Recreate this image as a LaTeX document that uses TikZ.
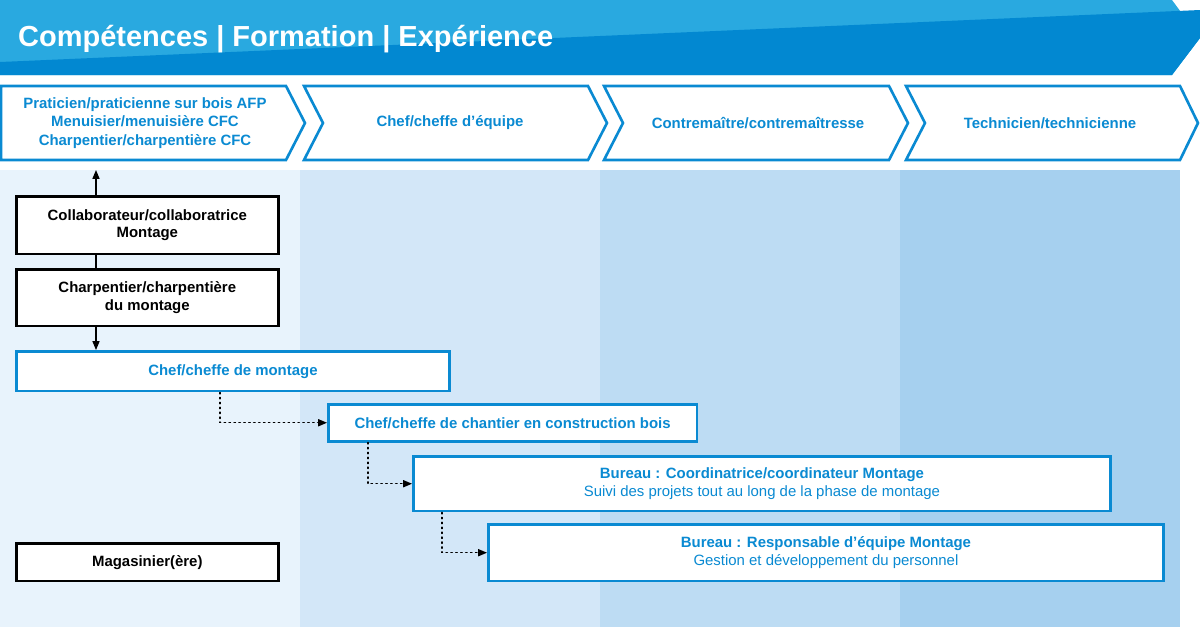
\documentclass[tikz,border=0pt]{standalone}
\usepackage{fontspec}
\setmainfont{Liberation Sans}
\usetikzlibrary{arrows.meta}
\definecolor{hdlight}{HTML}{29A9E0}
\definecolor{hddark}{HTML}{0288D1}
\definecolor{stroke}{HTML}{0A8AD2}
\definecolor{colA}{HTML}{E8F3FC}
\definecolor{colB}{HTML}{D3E7F8}
\definecolor{colC}{HTML}{BDDCF3}
\definecolor{colD}{HTML}{A6D0EF}
\newcommand{\pxu}{0.5669pt}
\tikzset{
    %standard arrow tip
    >={Triangle[length=5pt,width=4pt]},
    % black job box
    job/.style 2 args={rectangle, draw=black, line width=1.5pt, fill=white,
           anchor=north west, inner sep=0pt, align=center,
           minimum width={#1*\pxu}, minimum height={#2*\pxu},
           font=\fontsize{8.5}{10}\selectfont\bfseries},
    % blue job box
    bjob/.style 2 args={job={#1}{#2}, draw=stroke, text=stroke},
    % dotted step arrow
    dotstep/.style={->, stroke, thick, dotted, line cap=round},
    stage/.style={draw=stroke, line width=1.5pt, fill=white}
}
\begin{document}
\begin{tikzpicture}[x=0.02cm, y=-0.02cm]
\useasboundingbox (0,0) rectangle (1200,627);
% header
\fill[hdlight] (0,0) -- (1172,0) -- (1200,38) -- (1172,75) -- (0,75) -- cycle;
\fill[hddark] (0,75) -- (0,62) -- (1200,10) -- (1200,38) -- (1172,75) -- cycle;
\node[anchor=west, text=white, font=\fontsize{16.5}{18}\selectfont\bfseries] (title) at (12,39) {Compétences | Formation | Expérience};
% columns
\fill[colA] (0,170) rectangle (300,627);
\fill[colB] (300,170) rectangle (600,627);
\fill[colC] (600,170) rectangle (900,627);
\fill[colD] (900,170) rectangle (1180,627);
% stages
\draw[stage] (1,86) -- (286,86) -- (305,123) -- (286,160) -- (1,160) -- cycle;
\draw[stage] (304,86) -- (588,86) -- (607,123) -- (588,160) -- (304,160) -- (323,123) -- cycle;
\draw[stage] (604,86) -- (889,86) -- (908,123) -- (889,160) -- (604,160) -- (623,123) -- cycle;
\draw[stage] (906,86) -- (1180,86) -- (1198,123) -- (1180,160) -- (906,160) -- (925,123) -- cycle;
\begin{scope}[every node/.style={text=stroke, align=center, font=\fontsize{8.5}{10.5}\selectfont\bfseries}]
\node (s1) at (145,123) {Praticien/praticienne sur bois AFP\\Menuisier/menuisière CFC\\Charpentier/charpentière CFC};
\node (s2) at (450,123) {Chef/cheffe d’équipe};
\node (s3) at (758,123) {Contremaître/contremaîtresse};
\node (s4) at (1050,123) {Technicien/technicienne};
\end{scope}
% boxes
\node[job={263}{58}] (collab) at (15,195) {Collaborateur/collaboratrice\\Montage};
\node[job={263}{57}] (charp) at (15,268) {Charpentier/charpentière\\du montage};
\node[bjob={435}{40}] (chefm) at (15,350) {Chef/cheffe de montage};
\node[bjob={370}{37}] (chefc) at (327,403) {Chef/cheffe de chantier en construction bois};
\node[bjob={700}{55}] (coord) at (412,455) {Bureau : Coordinatrice/coordinateur Montage\\\mdseries Suivi des projets tout au long de la phase de montage};
\node[bjob={678}{57}] (resp) at (487,523) {Bureau : Responsable d'équipe Montage\\\mdseries Gestion et développement du personnel};
\node[job={263}{38}] (mag) at (15,542) {Magasinier(ère)};
% connectors
\coordinate (top) at (96,170);
\coordinate (d1) at (220,0);
\coordinate (d2) at (368,0);
\coordinate (d3) at (442,0);
\draw[->, semithick] (collab.north -| top) -- (top);
\draw[semithick] (collab.south -| top) -- (charp.north -| top);
\draw[->, semithick] (charp.south -| top) -- (chefm.north -| top);
\draw[dotstep] (chefm.south -| d1) |- (chefc.west);
\draw[dotstep] (chefc.south -| d2) |- (coord.west);
\draw[dotstep] (coord.south -| d3) |- (resp.west);
\end{tikzpicture}
\end{document}
